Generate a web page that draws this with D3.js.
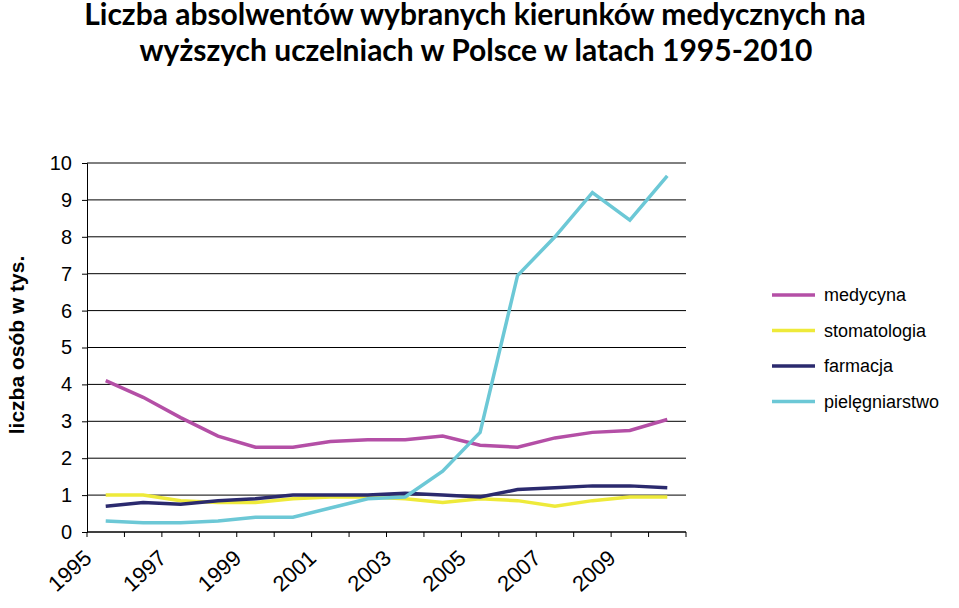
<!DOCTYPE html>
<html><head><meta charset="utf-8">
<script src="https://cdn.jsdelivr.net/npm/d3@7"></script>
<style>body{margin:0;background:#fff}</style>
</head><body>
<svg id="c" width="959" height="608"></svg>
<script>
const years = d3.range(1995, 2011).map(String);
const tickLabels = ["1995","1997","1999","2001","2003","2005","2007","2009"];
const yTicks = d3.range(0, 11);
const medycyna = [4.1,3.65,3.1,2.6,2.3,2.3,2.45,2.5,2.5,2.6,2.35,2.3,2.55,2.7,2.75,3.05];
const stomatologia = [1.0,1.0,0.85,0.8,0.8,0.9,0.95,0.95,0.9,0.8,0.9,0.85,0.7,0.85,0.95,0.95];
const farmacja = [0.7,0.8,0.75,0.85,0.9,1.0,1.0,1.0,1.05,1.0,0.95,1.15,1.2,1.25,1.25,1.2];
const pielegniarstwo = [0.3,0.25,0.25,0.3,0.4,0.4,0.65,0.9,0.95,1.65,2.7,6.95,8.0,9.2,8.45,9.65];
const seriesLabels = ["medycyna","stomatologia","farmacja","pielęgniarstwo"];
const colors = ["#b44fa6","#eeea3a","#2b2a6e","#6cc8d6"];
const series = [medycyna, stomatologia, farmacja, pielegniarstwo];

const svg = d3.select("#c");
const L=87,R=686,T=163,B=532;
const x = d3.scaleBand().domain(years).range([L,R]);
const y = d3.scaleLinear().domain([0,10]).range([B,T]);

svg.append("text").attr("x",475).attr("y",25).attr("text-anchor","middle")
  .attr("font-family","Lato").attr("font-weight","bold").attr("font-size",30).attr("fill","#000")
  .text("Liczba absolwentów wybranych kierunków medycznych na");
svg.append("text").attr("x",476).attr("y",61).attr("text-anchor","middle")
  .attr("font-family","Lato").attr("font-weight","bold").attr("font-size",30).attr("fill","#000")
  .text("wyższych uczelniach w Polsce w latach 1995-2010");

svg.append("g").selectAll("line").data(yTicks).join("line")
  .attr("x1",L).attr("x2",R).attr("y1",d=>y(d)).attr("y2",d=>y(d))
  .attr("stroke","#000").attr("stroke-width",1);
const ya = svg.append("g").attr("transform",`translate(${L},0)`)
  .call(d3.axisLeft(y).tickValues(yTicks).tickSize(5).tickPadding(10));
ya.select(".domain").attr("stroke","#000");
ya.selectAll("text").attr("font-family","Liberation Sans").attr("font-size",20).attr("fill","#000");
const xa = svg.append("g").attr("transform",`translate(0,${B})`);
xa.append("line").attr("x1",L).attr("x2",R).attr("stroke","#000");
xa.selectAll("line.t").data(years.concat(["end"])).join("line").attr("class","t")
  .attr("x1",(d,i)=>L+i*x.bandwidth()).attr("x2",(d,i)=>L+i*x.bandwidth())
  .attr("y1",0).attr("y2",5).attr("stroke","#000");
xa.selectAll("text").data(tickLabels).join("text")
  .attr("transform",d=>`translate(${x(d)+6},28) rotate(-42)`)
  .attr("text-anchor","end").attr("font-family","Liberation Sans").attr("font-size",22)
  .text(d=>d);

svg.append("text").attr("transform","translate(24,345) rotate(-90)").attr("text-anchor","middle")
  .attr("font-family","Liberation Sans").attr("font-weight","bold").attr("font-size",21)
  .text("liczba osób w tys.");

const line = d3.line().x((d,i)=>x(years[i])+x.bandwidth()/2).y(d=>y(d));
series.forEach((s,k)=>{
  svg.append("path").attr("d",line(s)).attr("fill","none").attr("stroke",colors[k]).attr("stroke-width",3.5);
});
const lg = svg.append("g");
seriesLabels.forEach((n,k)=>{
  const yy = 295 + k*35.5;
  lg.append("line").attr("x1",772).attr("x2",815).attr("y1",yy).attr("y2",yy).attr("stroke",colors[k]).attr("stroke-width",3.5);
  lg.append("text").attr("x",824).attr("y",yy+6).attr("font-family","Liberation Sans").attr("font-size",18).text(n);
});
</script>
</body></html>
